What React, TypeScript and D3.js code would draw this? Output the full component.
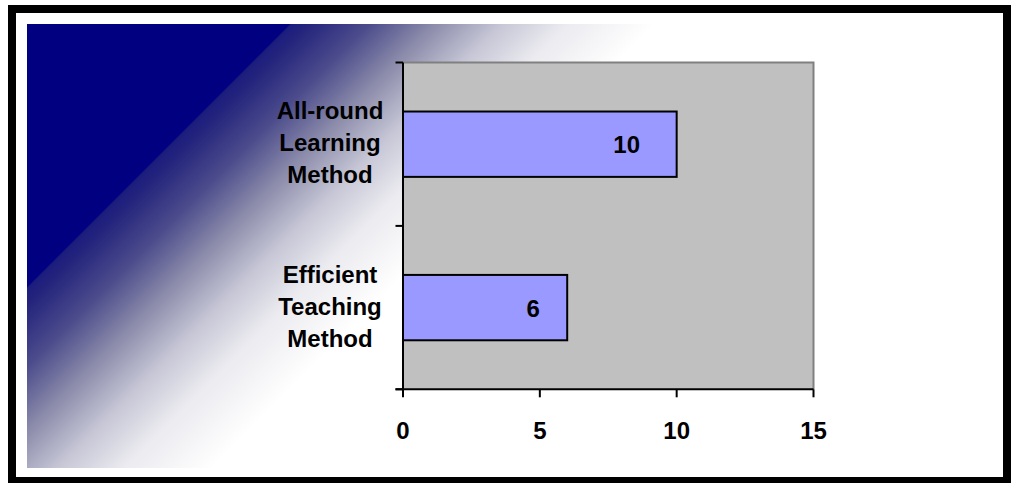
import React from "react";
import * as d3 from "d3";

// Chart data
const categories = ["All-round Learning Method", "Efficient Teaching Method"];
const categoryLines = [
  ["All-round", "Learning", "Method"],
  ["Efficient", "Teaching", "Method"],
];
const values = [10, 6];
const xTickValues = [0, 5, 10, 15];

const W = 1011;
const H = 483;

// Plot area
const plotLeft = 403;
const plotRight = 813.5;
const plotTop = 62.5;
const plotBottom = 389.3;

const FONT = "'Liberation Sans', Arial, sans-serif";

export default function App() {
  const x = d3.scaleLinear().domain([0, 15]).range([plotLeft, plotRight]);
  const y = d3
    .scaleBand<string>()
    .domain(categories)
    .range([plotTop, plotBottom])
    .paddingInner(0.6)
    .paddingOuter(0.3);

  const step = y.step();
  const catBoundaries = d3.range(categories.length + 1).map((i) => plotTop + i * step);

  // background gradient stops (navy into white along the diagonal)
  const stops: [number, string][] = [
    [0, "#000080"],
    [0.004, "#000080"],
    [0.01, "#1c1c7e"],
    [0.06, "#25257d"],
    [0.22, "#4b4b8c"],
    [0.4, "#8c8cab"],
    [0.58, "#c6c6d6"],
    [0.76, "#ebebf0"],
    [0.94, "#fafafb"],
    [1, "#ffffff"],
  ];

  return (
    <svg
      width={W}
      height={H}
      style={{ position: "absolute", left: 0, top: 0, background: "#ffffff" }}
    >
      <defs>
        <linearGradient id="bgGrad" gradientUnits="userSpaceOnUse" x1={156} y1={156} x2={340} y2={340}>
          {stops.map(([o, c], i) => (
            <stop key={i} offset={o} stopColor={c} />
          ))}
        </linearGradient>
      </defs>

      {/* outer frame */}
      <rect x={0} y={0} width={W} height={H} fill="#ffffff" />
      <rect x={12} y={9} width={W - 12 - 4} height={H - 9 - 2} fill="none" stroke="#000" strokeWidth={8} />

      {/* gradient panel */}
      <rect x={27} y={24} width={966} height={444} fill="url(#bgGrad)" />

      {/* plot area */}
      <rect
        x={plotLeft}
        y={plotTop}
        width={plotRight - plotLeft}
        height={plotBottom - plotTop}
        fill="#c0c0c0"
      />
      <path
        d={`M${plotLeft},${plotTop} H${plotRight} V${plotBottom}`}
        fill="none"
        stroke="#808080"
        strokeWidth={2}
      />

      {/* bars */}
      {categories.map((c, i) => (
        <rect
          key={c}
          x={x(0)}
          y={y(c)!}
          width={x(values[i]) - x(0)}
          height={y.bandwidth()}
          fill="#9999ff"
          stroke="#000"
          strokeWidth={2}
        />
      ))}

      {/* value labels inside bars */}
      {categories.map((c, i) => {
        const v = values[i];
        const cy = y(c)! + y.bandwidth() / 2;
        return (
          <text
            key={c}
            x={x(v) - 10 - 4 * v}
            y={cy + 9}
            textAnchor="middle"
            fontFamily={FONT}
            fontWeight="bold"
            fontSize={24}
            fill="#000"
          >
            {v}
          </text>
        );
      })}

      {/* category axis */}
      <line x1={plotLeft} x2={plotLeft} y1={plotTop} y2={plotBottom} stroke="#000" strokeWidth={2} />
      {catBoundaries.map((b, i) => (
        <line key={i} x1={plotLeft - 7.5} x2={plotLeft} y1={b} y2={b} stroke="#000" strokeWidth={2} />
      ))}
      {categories.map((c, i) => {
        const cy = y(c)! + y.bandwidth() / 2;
        return (
          <text
            key={c}
            textAnchor="middle"
            fontFamily={FONT}
            fontWeight="bold"
            fontSize={24}
            fill="#000"
          >
            {categoryLines[i].map((ln, j) => (
              <tspan key={j} x={330} y={cy + 7 + (j - 1) * 32}>
                {ln}
              </tspan>
            ))}
          </text>
        );
      })}

      {/* value axis */}
      <line x1={plotLeft - 7.5} x2={plotRight} y1={plotBottom} y2={plotBottom} stroke="#000" strokeWidth={2} />
      {xTickValues.map((t) => (
        <g key={t}>
          <line x1={x(t)} x2={x(t)} y1={plotBottom} y2={plotBottom + 8} stroke="#000" strokeWidth={2} />
          <text
            x={x(t)}
            y={439}
            textAnchor="middle"
            fontFamily={FONT}
            fontWeight="bold"
            fontSize={24}
            fill="#000"
          >
            {t}
          </text>
        </g>
      ))}
    </svg>
  );
}
